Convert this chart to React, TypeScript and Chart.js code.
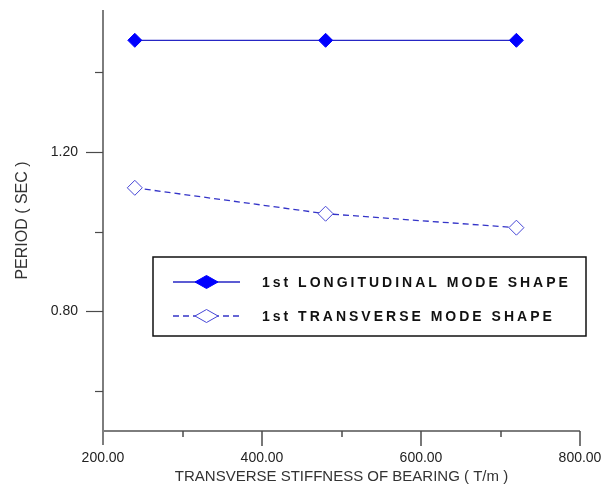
import React, { useEffect, useRef } from 'react';
import { Chart, registerables } from 'chart.js';

Chart.register(...registerables);

// ---- data ----
const stiffness = [240, 480, 720];
const longitudinal = [1.48, 1.48, 1.48];
const transverse = [1.11, 1.045, 1.01];
const seriesNames = ['1st LONGITUDINAL MODE SHAPE', '1st TRANSVERSE MODE SHAPE'];
const xTickLabels = [200, 400, 600, 800];
const yTickLabels = [0.8, 1.2];
const xTitle = 'TRANSVERSE STIFFNESS OF BEARING ( T/m )';
const yTitle = 'PERIOD ( SEC )';

const FONT = '"Liberation Sans", Arial, sans-serif';
const isLabeled = (list: number[], v: number) => list.some((l) => Math.abs(l - v) < 1e-6);

const axesPlugin = {
  id: 'customAxes',
  afterDraw(chart: any) {
    const { ctx, chartArea: a, scales } = chart;
    const xs = scales.x;
    const ys = scales.y;
    ctx.save();
    ctx.strokeStyle = '#7d7d7d';
    ctx.lineWidth = 2;
    ctx.beginPath();
    ctx.moveTo(a.left, a.top);
    ctx.lineTo(a.left, a.bottom + 14);
    ctx.stroke();
    ctx.beginPath();
    ctx.moveTo(a.left, a.bottom);
    ctx.lineTo(a.right, a.bottom);
    ctx.stroke();

    ctx.strokeStyle = '#4a4a4a';
    ctx.lineWidth = 1.5;
    xs.ticks.forEach((t: any) => {
      const px = Math.round(xs.getPixelForValue(t.value));
      if (px <= a.left + 1) return;
      const major = isLabeled(xTickLabels, t.value);
      ctx.beginPath();
      ctx.moveTo(px, a.bottom);
      ctx.lineTo(px, a.bottom + (major ? 15 : 6));
      ctx.stroke();
    });
    ctx.lineWidth = 1.2;
    ys.ticks.forEach((t: any) => {
      const py = Math.round(ys.getPixelForValue(t.value)) + 0.5;
      const major = isLabeled(yTickLabels, t.value);
      ctx.beginPath();
      ctx.moveTo(a.left - (major ? 17 : 8), py);
      ctx.lineTo(a.left, py);
      ctx.stroke();
    });
    ctx.restore();
  },
};

const legendPlugin = {
  id: 'boxLegend',
  afterDraw(chart: any) {
    const { ctx, chartArea: a } = chart;
    const left = a.left + 50;
    const top = a.top + 247;
    const right = a.right + 6;
    const bottom = a.top + 326;
    ctx.save();
    ctx.strokeStyle = '#111';
    ctx.lineWidth = 1.5;
    ctx.strokeRect(left, top, right - left, bottom - top);

    const rows = [top + 25, top + 59];
    chart.data.datasets.forEach((ds: any, i: number) => {
      const y = rows[i];
      const x0 = left + 20;
      const x1 = left + 87;
      const xm = (x0 + x1) / 2;
      ctx.strokeStyle = ds.borderColor;
      ctx.lineWidth = ds.borderWidth;
      ctx.setLineDash(ds.borderDash || []);
      ctx.beginPath();
      ctx.moveTo(x0, y);
      ctx.lineTo(x1, y);
      ctx.stroke();
      ctx.setLineDash([]);
      const hw = 11.5;
      const hh = 6.5;
      ctx.beginPath();
      ctx.moveTo(xm - hw, y);
      ctx.lineTo(xm, y - hh);
      ctx.lineTo(xm + hw, y);
      ctx.lineTo(xm, y + hh);
      ctx.closePath();
      ctx.fillStyle = ds.pointBackgroundColor;
      ctx.fill();
      ctx.strokeStyle = ds.pointBorderColor;
      ctx.lineWidth = 1;
      ctx.stroke();

      ctx.fillStyle = '#111';
      ctx.font = `bold 14px ${FONT}`;
      (ctx as any).letterSpacing = '3px';
      ctx.textAlign = 'left';
      ctx.textBaseline = 'middle';
      ctx.fillText(ds.label, left + 109, y + 1);
      (ctx as any).letterSpacing = '0px';
    });
    ctx.restore();
  },
};

export default function App() {
  const ref = useRef<HTMLCanvasElement | null>(null);

  useEffect(() => {
    if (!ref.current) return;
    const chart = new Chart(ref.current, {
      type: 'line',
      data: {
        datasets: [
          {
            label: seriesNames[0],
            data: stiffness.map((x, i) => ({ x, y: longitudinal[i] })),
            borderColor: '#2626c4',
            borderWidth: 1.3,
            pointStyle: 'rectRot',
            pointRadius: 7,
            pointBackgroundColor: '#0000ff',
            pointBorderColor: '#0000ff',
            pointBorderWidth: 1,
          },
          {
            label: seriesNames[1],
            data: stiffness.map((x, i) => ({ x, y: transverse[i] })),
            borderColor: '#3434c8',
            borderWidth: 1.3,
            borderDash: [6, 4],
            pointStyle: 'rectRot',
            pointRadius: 7.5,
            pointBackgroundColor: '#ffffff',
            pointBorderColor: '#4646d6',
            pointBorderWidth: 1,
          },
        ],
      },
      options: {
        animation: false,
        responsive: true,
        maintainAspectRatio: false,
        layout: { padding: { left: 0, right: 23, top: 10, bottom: 0 } },
        plugins: { legend: { display: false }, tooltip: { enabled: false } },
        scales: {
          x: {
            type: 'linear',
            min: 200,
            max: 800,
            afterFit: (s: any) => {
              s.height = 57;
              s.paddingLeft = 0;
              s.paddingRight = 0;
            },
            ticks: {
              stepSize: 100,
              autoSkip: false,
              maxRotation: 0,
              padding: 11,
              color: '#222',
              font: { family: FONT, size: 14 },
              callback: (v: any) => (isLabeled(xTickLabels, Number(v)) ? Number(v).toFixed(2) : ''),
            },
            grid: { drawOnChartArea: false, drawTicks: true, tickLength: 8, color: 'rgba(0,0,0,0)' },
            border: { display: false },
            title: {
              display: true,
              text: xTitle,
              color: '#333',
              font: { family: FONT, size: 15 },
              padding: { top: 0, bottom: 2 },
            },
          },
          y: {
            type: 'linear',
            min: 0.5,
            max: 1.556,
            afterFit: (s: any) => {
              s.width = 103;
              s.paddingTop = 0;
              s.paddingBottom = 0;
            },
            ticks: {
              stepSize: 0.2,
              includeBounds: false,
              autoSkip: false,
              padding: 8,
              color: '#222',
              font: { family: FONT, size: 14 },
              callback: (v: any) => (isLabeled(yTickLabels, Number(v)) ? Number(v).toFixed(2) : ''),
            },
            grid: { drawOnChartArea: false, drawTicks: true, tickLength: 17, color: 'rgba(0,0,0,0)' },
            border: { display: false },
            title: {
              display: true,
              text: yTitle,
              color: '#333',
              font: { family: FONT, size: 16 },
              padding: { top: 13, bottom: 0 },
            },
          },
        },
      },
      plugins: [axesPlugin, legendPlugin],
    });
    return () => chart.destroy();
  }, []);

  return (
    <div style={{ position: 'fixed', left: 0, top: 0, width: 603, height: 488, background: '#fff' }}>
      <canvas ref={ref} />
    </div>
  );
}
